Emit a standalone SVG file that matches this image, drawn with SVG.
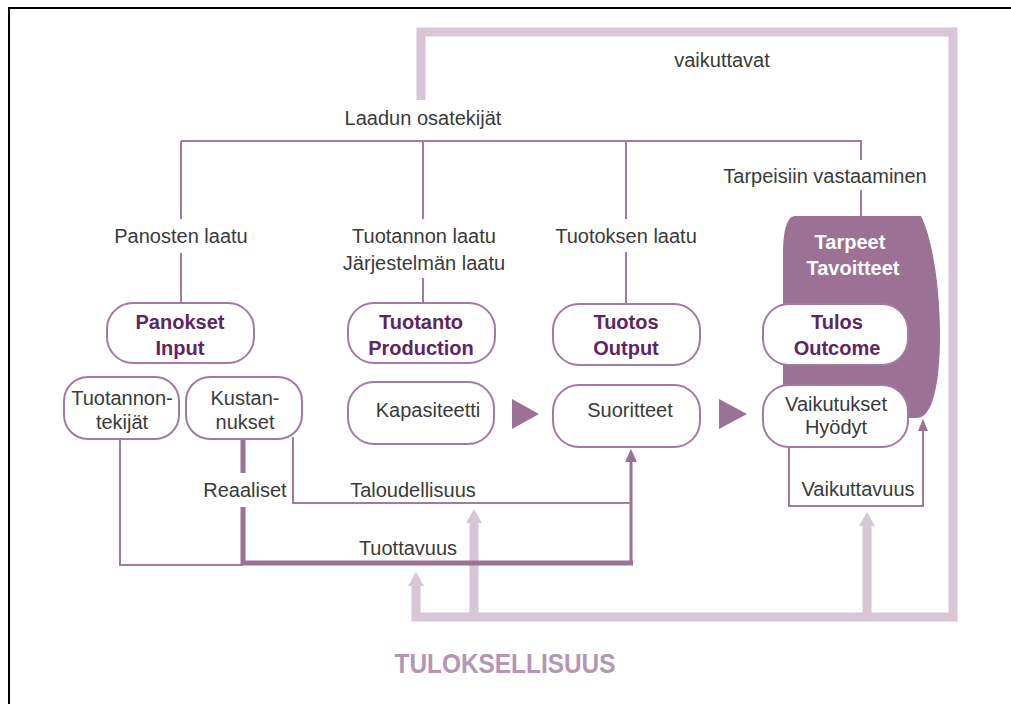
<svg xmlns="http://www.w3.org/2000/svg" width="1011" height="704" viewBox="0 0 1011 704">
  <style>
    .lbl { font-family: "Liberation Sans", Arial, sans-serif; font-size: 20px; fill: #3a3a3a; text-anchor: middle; }
    .nlbl { font-family: "Liberation Sans", Arial, sans-serif; font-size: 20px; font-weight: bold; fill: #5e2563; text-anchor: middle; }
    .wlbl { font-family: "Liberation Sans", Arial, sans-serif; font-size: 20px; font-weight: bold; fill: #ffffff; text-anchor: middle; }
    .box { fill: #ffffff; stroke: #a07ca0; stroke-width: 2; }
    .thin { fill: none; stroke: #a07ca0; stroke-width: 2; }
    .thick { fill: none; stroke: #9b7196; stroke-width: 5; }
    .mid { fill: none; stroke: #9b7196; stroke-width: 3; }
    .light { fill: none; stroke: #d6c6d6; stroke-width: 9; }
    .lighthead { fill: #d6c6d6; }
    .darkhead { fill: #9b7196; }
  </style>

  <!-- frame -->
  <path d="M9,704 V8 H1011" fill="none" stroke="#000" stroke-width="2"/>

  <!-- connectors -->
  <g id="connectors">
    <!-- outer feedback loop -->
    <path class="light" d="M421,100 V32 H953 V617 H416 V585"/>
    <path class="light" d="M474,617 V522"/>
    <path class="light" d="M867,617 V525"/>
    <polygon class="lighthead" points="416,572 408,586 424,586"/>
    <polygon class="lighthead" points="474,509 466,523 482,523"/>
    <polygon class="lighthead" points="867,512 859,526 875,526"/>

    <!-- quality components tree -->
    <path class="thin" d="M181,141 H862"/>
    <path class="thin" d="M181,141 V219 M181,253 V303"/>
    <path class="thin" d="M423,141 V219 M423,278 V303"/>
    <path class="thin" d="M626,141 V219 M626,252 V303"/>
    <path class="thin" d="M861,141 V160 M861,190 V217"/>

    <!-- cost / productivity lines -->
    <path class="thin" d="M120,439 V565 H243"/>
    <path class="thick" d="M243,439 V473 M243,507 V563 H633"/>
    <path class="mid" d="M631,565 V460"/>
    <polygon class="darkhead" points="631,449 625,462 637,462"/>
    <path class="thin" d="M293,437 V503 H631"/>

    <!-- effectiveness loop -->
    <path class="thin" d="M789,447 V506 H923 V430"/>
    <polygon class="darkhead" points="923,419 918,431 928,431"/>

    <!-- flow arrows -->
    <polygon class="darkhead" points="512,399 539,414 512,429"/>
    <polygon class="darkhead" points="719,399 747,414 719,429"/>
  </g>

  <!-- free labels -->
  <text class="lbl" x="722" y="67">vaikuttavat</text>
  <text class="lbl" x="423" y="125">Laadun osatekijät</text>
  <text class="lbl" x="825" y="183">Tarpeisiin vastaaminen</text>
  <text class="lbl" x="181" y="243">Panosten laatu</text>
  <text class="lbl" x="424" y="243">Tuotannon laatu</text>
  <text class="lbl" x="424" y="270">Järjestelmän laatu</text>
  <text class="lbl" x="626" y="243">Tuotoksen laatu</text>
  <text class="lbl" x="245" y="497">Reaaliset</text>
  <text class="lbl" x="413" y="497">Taloudellisuus</text>
  <text class="lbl" x="408" y="555">Tuottavuus</text>
  <text class="lbl" x="858" y="496">Vaikuttavuus</text>
  <text x="505" y="673" font-family="Liberation Sans, Arial, sans-serif" font-size="28" font-weight="bold" fill="#b496b4" text-anchor="middle" textLength="221" lengthAdjust="spacingAndGlyphs">TULOKSELLISUUS</text>

  <!-- needs / goals -->
  <g id="tarpeet">
    <path d="M795,216 L921,216 C933,240 940,290 940,335 C940,385 932,418 917,418 L783,418 L783,252 C783,232 787,216 795,216 Z" fill="#9b7196"/>
    <text class="wlbl" x="850" y="249">Tarpeet</text>
    <text class="wlbl" x="853" y="275">Tavoitteet</text>
  </g>

  <g id="panokset">
    <rect class="box" x="107" y="303" width="147" height="60" rx="26"/>
    <text class="nlbl" x="180" y="329">Panokset</text>
    <text class="nlbl" x="180" y="355">Input</text>
  </g>
  <g id="tuotanto">
    <rect class="box" x="348" y="303" width="147" height="60" rx="26"/>
    <text class="nlbl" x="421" y="329">Tuotanto</text>
    <text class="nlbl" x="421" y="355">Production</text>
  </g>
  <g id="tuotos">
    <rect class="box" x="553" y="304" width="147" height="61" rx="26"/>
    <text class="nlbl" x="626" y="329">Tuotos</text>
    <text class="nlbl" x="626" y="355">Output</text>
  </g>
  <g id="tulos">
    <rect class="box" x="763" y="304" width="145" height="61" rx="26"/>
    <text class="nlbl" x="837" y="329">Tulos</text>
    <text class="nlbl" x="837" y="355">Outcome</text>
  </g>
  <g id="tuotannontekijat">
    <rect class="box" x="64" y="377" width="115" height="62" rx="24"/>
    <text class="lbl" x="122" y="405">Tuotannon-</text>
    <text class="lbl" x="122" y="429">tekijät</text>
  </g>
  <g id="kustannukset">
    <rect class="box" x="186" y="377" width="116" height="62" rx="24"/>
    <text class="lbl" x="245" y="405">Kustan-</text>
    <text class="lbl" x="245" y="429">nukset</text>
  </g>
  <g id="kapasiteetti">
    <rect class="box" x="348" y="382" width="146" height="62" rx="26"/>
    <text class="lbl" x="428" y="417">Kapasiteetti</text>
  </g>
  <g id="suoritteet">
    <rect class="box" x="553" y="385" width="147" height="62" rx="26"/>
    <text class="lbl" x="630" y="417">Suoritteet</text>
  </g>
  <g id="vaikutukset">
    <rect class="box" x="763" y="385" width="145" height="62" rx="26"/>
    <text class="lbl" x="836" y="411">Vaikutukset</text>
    <text class="lbl" x="836" y="434">Hyödyt</text>
  </g>
</svg>
